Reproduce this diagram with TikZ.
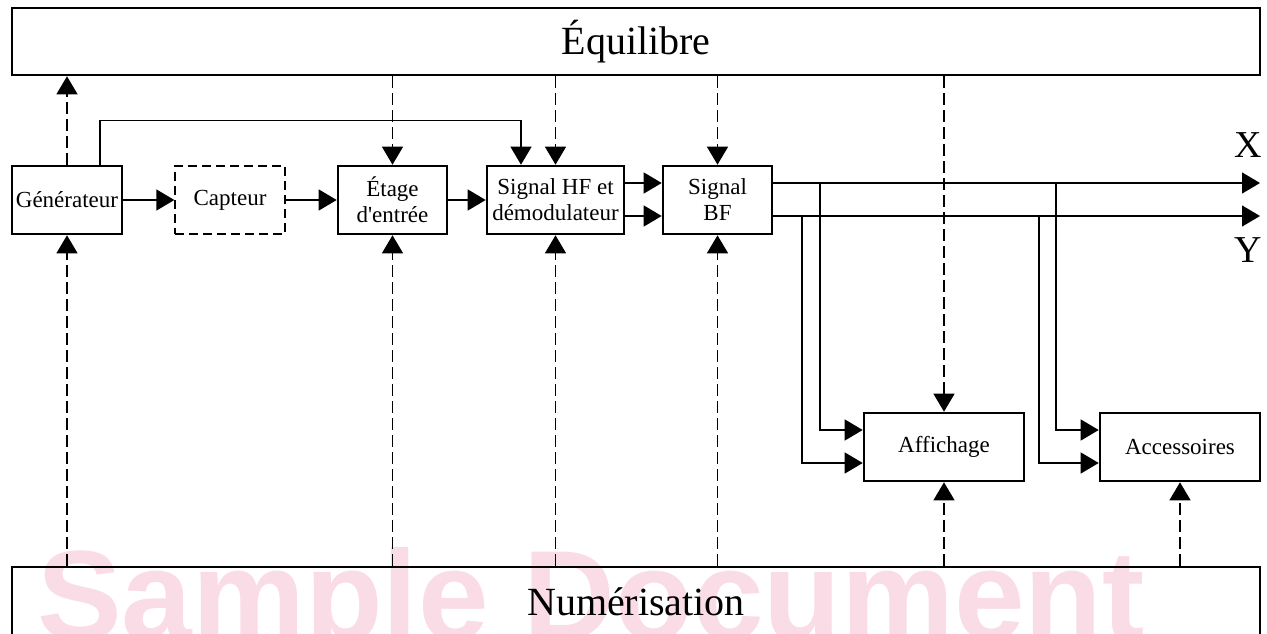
\documentclass[tikz,border=0pt]{standalone}
\usepackage{fontspec}
\setmainfont{Liberation Serif}
\newfontfamily\wmfont{Liberation Sans}
\usetikzlibrary{arrows.meta}
\definecolor{wmpink}{RGB}{249,220,229}
\tikzset{
  blk/.style={draw, line width=2.6pt, minimum height=68pt, inner sep=0pt, align=center, font=\fontsize{23}{26}\selectfont},
  dblk/.style={draw, line width=1.3pt, dash pattern=on 9pt off 5pt, minimum height=68pt, inner sep=0pt, align=center, font=\fontsize{23}{26}\selectfont},
  bigblk/.style={draw, line width=2.6pt, minimum width=1248pt, inner sep=0pt, font=\fontsize{40}{44}\selectfont},
  tip/.style={-{Triangle[length=18pt,width=21pt]}},
  conn/.style={tip, line width=1.3pt},
  dconn/.style={tip, line width=1.3pt, dash pattern=on 12pt off 5pt},
  lbl/.style={font=\fontsize{38}{40}\selectfont, inner sep=0pt}
}
\begin{document}
\begin{tikzpicture}[x=1pt,y=-1pt]
\useasboundingbox (0,0) rectangle (1267,634);
% watermark
\node[anchor=base, text=wmpink, inner sep=0pt, font=\wmfont\bfseries\fontsize{127}{130}\selectfont] (wm) at (591,639) {Sample Document};

% big boxes
\node[bigblk, minimum height=67pt] (equ) at (636,41.5) {Équilibre};
\node[bigblk, minimum height=70pt] (num) at (636,602) {Numérisation};

% blocks
\node[blk, minimum width=110pt] (gen) at (67,200) {Générateur};
\node[dblk, minimum width=110pt] (cap) at (230,200) {Capteur};
\node[blk, minimum width=109pt] (eta) at (392.5,200) {Étage\\d\textquotesingle entrée};
\node[blk, minimum width=137pt] (shf) at (555.5,200) {Signal HF et\\démodulateur};
\node[blk, minimum width=109pt] (sbf) at (717.5,200) {Signal\\BF};
\node[blk, minimum width=160pt] (aff) at (944,447) {Affichage};
\node[blk, minimum width=160pt] (acc) at (1180,447) {Accessoires};

% output labels
\node[lbl] (xl) at (1248,145) {X};
\node[lbl] (yl) at (1248,250) {Y};

% helper coordinates
\coordinate (yX) at (0,183);
\coordinate (yY) at (0,216);
\coordinate (X) at (1260,183);
\coordinate (Y) at (1260,216);
\coordinate (b1) at (820,183);
\coordinate (b2) at (802,216);
\coordinate (b3) at (1056,183);
\coordinate (b4) at (1039,216);

% chain
\draw[conn] (gen.east) -- (cap.west);
\draw[conn] (cap.east) -- (eta.west);
\draw[conn] (eta.east) -- (shf.west);
\draw[conn] (shf.east |- yX) -- (sbf.west |- yX);
\draw[conn] (shf.east |- yY) -- (sbf.west |- yY);
\draw[conn] (sbf.east |- yX) -- (X);
\draw[conn] (sbf.east |- yY) -- (Y);

% branches
\draw[conn] (b1) |- ([yshift=17pt]aff.west);
\draw[conn] (b2) |- ([yshift=-16pt]aff.west);
\draw[conn] (b3) |- ([yshift=17pt]acc.west);
\draw[conn] (b4) |- ([yshift=-16pt]acc.west);

% generator loop
\draw[conn] ([xshift=33pt]gen.north) -- ++(0,-44) -| ([xshift=-34.5pt]shf.north);

% Equilibre links
\draw[dconn] (gen.north) -- (gen.north |- equ.south);
\draw[dconn] (eta.north |- equ.south) -- (eta.north);
\draw[dconn] (shf.north |- equ.south) -- (shf.north);
\draw[dconn] (sbf.north |- equ.south) -- (sbf.north);
\draw[dconn] (aff.north |- equ.south) -- (aff.north);

% Numerisation links
\draw[dconn] (gen.south |- num.north) -- (gen.south);
\draw[dconn] (eta.south |- num.north) -- (eta.south);
\draw[dconn] (shf.south |- num.north) -- (shf.south);
\draw[dconn] (sbf.south |- num.north) -- (sbf.south);
\draw[dconn] (aff.south |- num.north) -- (aff.south);
\draw[dconn] (acc.south |- num.north) -- (acc.south);
\end{tikzpicture}
\end{document}
